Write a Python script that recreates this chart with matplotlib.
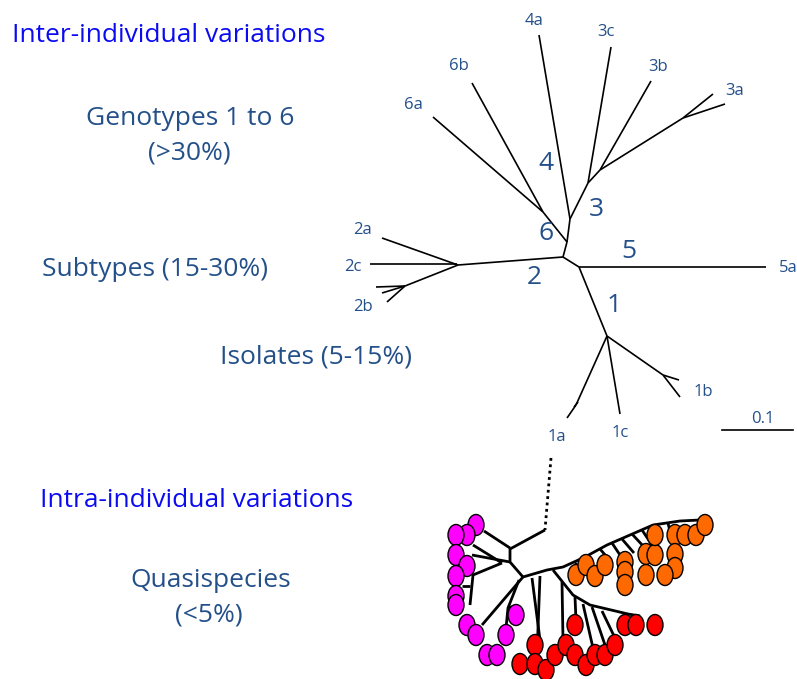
import matplotlib.pyplot as plt
from matplotlib.patches import Ellipse

plt.rcParams["font.family"] = ["Open Sans", "DejaVu Sans"]

DARK = "#24508a"
BRIGHT = "#0b0bf2"

# ---- genotype tree: branches as (x0, y0, x1, y1) in picture pixels ----
geno_edges = [
    (563, 257, 579, 267), (579, 267, 766, 267),                      # 5a
    (579, 267, 607, 336), (607, 336, 576, 405), (576, 405, 567, 418),  # 1 / 1a
    (574, 407, 578, 402),
    (607, 336, 620, 414),                                            # 1c
    (607, 336, 663, 375), (663, 375, 679, 380), (663, 375, 680, 397),  # 1b
    (563, 257, 458, 265), (458, 265, 382, 238), (457, 264, 370, 264),  # 2a 2c
    (458, 265, 405, 286), (405, 286, 376, 287), (405, 286, 382, 293),  # 2b
    (405, 286, 387, 302),
    (563, 257, 567, 242), (567, 242, 543, 212),                      # 6
    (543, 212, 433, 117), (543, 212, 472, 83),
    (567, 242, 570, 219), (570, 219, 539, 35),                       # 4a
    (570, 219, 588, 183), (588, 183, 611, 47),                       # 3c
    (588, 183, 600, 170), (600, 170, 651, 81),                       # 3b
    (600, 170, 683, 118), (683, 118, 713, 94), (683, 118, 725, 104),   # 3a
]
leaf_labels = ["4a", "3c", "3b", "3a", "6b", "6a", "2a", "2c", "2b", "5a", "1b", "1c", "1a"]
leaf_xy = [(534, 21), (606, 32), (658, 67), (735, 91), (459, 66), (413, 105),
           (363, 230), (353, 267), (363, 307), (788, 268), (703, 392), (620, 433), (557, 437)]
genotype_labels = ["4", "3", "6", "5", "2", "1"]
genotype_xy = [(546, 163), (596, 209), (546, 234), (629, 251), (534, 278), (614, 306)]

# ---- quasispecies tree ----
dotted_link = [(551, 458), (545, 530)]
qs_paths = [
    [(545, 530), (510, 549), (510, 562), (523, 577)],
    [(510, 548), (484, 531)],
    [(510, 562), (472, 555)],
    [(502, 563), (473, 545)],
    [(502, 563), (473, 575), (470, 605)],
    [(470, 586), (462, 586)],
    [(523, 577), (482, 625)],
    [(519, 580), (508, 608), (506, 628)],
    [(508, 608), (515, 606)],
    [(523, 577), (547, 570), (563, 567), (585, 557), (607, 545),
     (630, 535), (653, 525), (680, 521), (700, 520)],
    [(553, 570), (573, 595), (590, 605), (628, 614), (640, 616)],
    [(532, 578), (540, 640)],
    [(540, 576), (537, 655)],
    [(562, 582), (563, 640)],
    [(575, 597), (576, 620)],
    [(583, 604), (593, 648)],
    [(592, 607), (605, 645)],
    [(602, 611), (615, 638)],
    [(575, 563), (586, 575)], [(585, 557), (596, 570)], [(600, 549), (612, 563)],
    [(612, 543), (622, 558)], [(622, 539), (634, 553)], [(632, 534), (645, 548)],
    [(642, 530), (652, 545)], [(655, 525), (662, 540)], [(668, 523), (672, 540)],
]
magenta_xy = [(476, 525), (467, 535), (456, 535), (456, 555), (467, 566), (456, 576),
              (456, 596), (456, 605), (467, 625), (476, 635), (487, 655), (497, 655),
              (506, 635), (516, 615)]
orange_xy = [(576, 575), (586, 565), (595, 576), (605, 565), (625, 562), (625, 572),
             (625, 585), (646, 554), (655, 555), (646, 575), (655, 535), (675, 535),
             (685, 535), (696, 535), (705, 525), (675, 554), (675, 568), (665, 575)]
red_xy = [(575, 625), (625, 625), (636, 625), (655, 625), (535, 645), (520, 664),
          (535, 664), (546, 670), (555, 655), (566, 645), (575, 655), (586, 665),
          (595, 655), (605, 655), (615, 645)]

fig = plt.figure(figsize=(7.97, 6.79), dpi=100)
ax = fig.add_axes([0, 0, 1, 1])
ax.set_xlim(0, 797)
ax.set_ylim(679, 0)
ax.axis("off")

# left-hand captions
cap = dict(fontsize=19, va="baseline")
ax.text(12, 42, "Inter-individual variations", color=BRIGHT, **cap)
ax.text(190, 125, "Genotypes 1 to 6", color=DARK, ha="center", **cap)
ax.text(189, 159, "(>30%)", color=DARK, ha="center", **cap)
ax.text(42, 276, "Subtypes (15-30%)", color=DARK, **cap)
ax.text(220, 364, "Isolates (5-15%)", color=DARK, **cap)
ax.text(40, 507, "Intra-individual variations", color=BRIGHT, **cap)
ax.text(211, 587, "Quasispecies", color=DARK, ha="center", **cap)
ax.text(209, 621, "(<5%)", color=DARK, ha="center", **cap)

# genotype tree
for x0, y0, x1, y1 in geno_edges:
    ax.plot([x0, x1], [y0, y1], color="black", lw=1.2, solid_capstyle="butt")
for lab, (x, y) in zip(leaf_labels, leaf_xy):
    ax.text(x, y, lab, color=DARK, fontsize=12, ha="center", va="center")
for lab, (x, y) in zip(genotype_labels, genotype_xy):
    ax.text(x, y, lab, color=DARK, fontsize=19, ha="center", va="center")

# scale bar
ax.plot([722, 793], [430, 430], color="black", lw=1.2)
ax.text(763, 419, "0.1", color=DARK, fontsize=12, ha="center", va="center")

# quasispecies tree
ax.plot(*zip(*dotted_link), color="black", lw=2, ls=(0, (1, 1.3)))
for path in qs_paths:
    ax.plot(*zip(*path), color="black", lw=2, solid_capstyle="butt", zorder=2)
for pts, col in [(magenta_xy, "#ff00ff"), (orange_xy, "#ff6a00"), (red_xy, "#ff0000")]:
    for x, y in pts:
        ax.add_patch(Ellipse((x, y), 16, 21, facecolor=col, edgecolor="black", lw=1, zorder=3))

fig.savefig("out.png", dpi=100)
